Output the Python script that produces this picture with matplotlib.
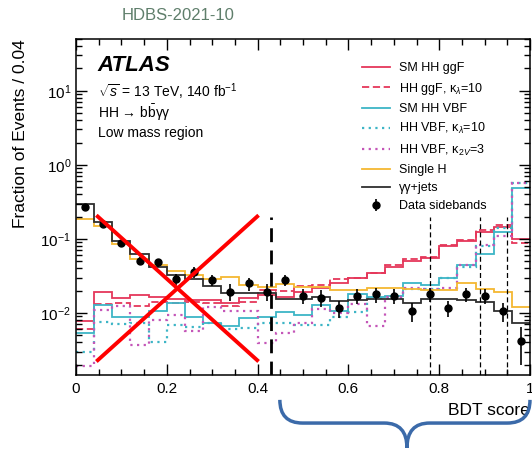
import numpy as np
import matplotlib
matplotlib.use('Agg')
import matplotlib.pyplot as plt
from matplotlib.path import Path
from matplotlib.patches import PathPatch
from matplotlib.lines import Line2D
from matplotlib.ticker import MultipleLocator, LogLocator, NullFormatter

plt.rcParams['font.family'] = ['Liberation Sans', 'DejaVu Sans']
plt.rcParams['mathtext.fontset'] = 'custom'
plt.rcParams['mathtext.rm'] = 'Liberation Sans'
plt.rcParams['mathtext.it'] = 'Liberation Sans:italic'
plt.rcParams['mathtext.bf'] = 'Liberation Sans:bold'

# 25 bins of width 0.04 in BDT score
edges = np.linspace(0.0, 1.0, 26)
centers = 0.5 * (edges[1:] + edges[:-1])

sm_ggf = [0.0078, 0.0192, 0.0158, 0.0177, 0.0163, 0.0153, 0.0151, 0.0151, 0.0135, 0.0158,
          0.0175, 0.0166, 0.0194, 0.0215, 0.0257, 0.0294, 0.0343, 0.0423, 0.050, 0.055,
          0.079, 0.095, 0.125, 0.146, 0.099]
ggf_kl10 = [0.0060, 0.0131, 0.0138, 0.0125, 0.0142, 0.0138, 0.0142, 0.0138, 0.0124, 0.0140,
            0.0204, 0.0200, 0.0230, 0.0237, 0.0290, 0.0294, 0.0350, 0.0440, 0.054, 0.0574,
            0.083, 0.097, 0.132, 0.155, 0.089]
sm_vbf = [0.0054, 0.0129, 0.0089, 0.0089, 0.0107, 0.0135, 0.0087, 0.0072, 0.0067, 0.0085,
          0.0089, 0.0104, 0.0095, 0.0127, 0.0107, 0.0180, 0.0165, 0.0170, 0.0257, 0.024,
          0.030, 0.045, 0.062, 0.123, 0.48]
vbf_kl10 = [0.0030, 0.0076, 0.0071, 0.0074, 0.0040, 0.0068, 0.0064, 0.0072, 0.0060, 0.0062,
            0.0072, 0.0072, 0.0069, 0.0069, 0.0089, 0.0104, 0.0158, 0.0160, 0.021, 0.021,
            0.030, 0.042, 0.080, 0.140, 0.56]
vbf_k2v3 = [0.0019, 0.0110, 0.0125, 0.0037, 0.0080, 0.0094, 0.0057, 0.0120, 0.0105, 0.0105,
            0.0039, 0.0053, 0.0074, 0.0112, 0.0099, 0.0132, 0.0067, 0.0163, 0.0215, 0.021,
            0.022, 0.045, 0.083, 0.110, 0.56]
single_h = [0.185, 0.151, 0.085, 0.054, 0.045, 0.037, 0.032, 0.029, 0.031, 0.024,
            0.0227, 0.0245, 0.0227, 0.0225, 0.0205, 0.0205, 0.0216, 0.0216, 0.021, 0.0205,
            0.0205, 0.025, 0.021, 0.0190, 0.0122]
gg_jets = [0.294, 0.171, 0.094, 0.062, 0.042, 0.033, 0.029, 0.023, 0.0187, 0.0187,
           0.0183, 0.0153, 0.0153, 0.0166, 0.0147, 0.0150, 0.0156, 0.0153, 0.0136, 0.0155,
           0.0155, 0.0150, 0.0142, 0.0105, 0.0072]
data = [0.268, 0.158, 0.087, 0.050, 0.048, 0.029, 0.036, 0.028, 0.0194, 0.025,
        0.0194, 0.028, 0.017, 0.0161, 0.0116, 0.017, 0.0178, 0.017, 0.0106, 0.018,
        0.0117, 0.018, 0.017, 0.0106, 0.0042]
data_err = [0.015, 0.010, 0.007, 0.006, 0.006, 0.005, 0.006, 0.005, 0.005, 0.005,
            0.005, 0.005, 0.004, 0.004, 0.003, 0.004, 0.004, 0.004, 0.003, 0.004,
            0.003, 0.004, 0.004, 0.003, 0.0022]

# category boundaries in BDT score
main_cut = 0.43
cat_cuts = [0.78, 0.89, 0.95]
cut_top = 0.2

# crossed-out low-score region
cross_x = [0.048, 0.399]
cross_y = [0.2, 0.0023]

ylo, yhi = 1.45e-3, 50.0

c_ggf = '#e5375a'
c_vbf = '#3db5c6'
c_k2v = '#c456b8'
c_sh = '#f4b731'
c_bkg = '#2f2f2f'

fig = plt.figure(figsize=(5.32, 4.49), dpi=100)
ax = fig.add_axes([76/532, 74/449, 454/532, 336/449])

lw = 1.3
ax.stairs(sm_ggf, edges, color=c_ggf, lw=lw, baseline=None)
ax.stairs(ggf_kl10, edges, color=c_ggf, lw=lw, ls=(0, (4, 2)), baseline=None)
ax.stairs(sm_vbf, edges, color=c_vbf, lw=lw, baseline=None)
ax.stairs(vbf_kl10, edges, color=c_vbf, lw=1.6, ls=(0, (1, 2)), baseline=None)
ax.stairs(vbf_k2v3, edges, color=c_k2v, lw=1.6, ls=(0, (1, 2)), baseline=None)
ax.stairs(single_h, edges, color=c_sh, lw=lw, baseline=None)
ax.stairs(gg_jets, edges, color=c_bkg, lw=lw, baseline=None)
eb = ax.errorbar(centers, data, yerr=data_err, fmt='o', color='black', ms=5,
                 elinewidth=1.2, capsize=0, zorder=5)

ax.plot([main_cut, main_cut], [ylo, cut_top], color='black', lw=2.0, ls=(0, (5, 3)))
for c in cat_cuts:
    ax.plot([c, c], [ylo, cut_top], color='black', lw=0.9, ls=(0, (4, 2.5)))

ax.plot(cross_x, cross_y, color='red', lw=2.8, zorder=6)
ax.plot(cross_x, cross_y[::-1], color='red', lw=2.8, zorder=6)

ax.set_xlim(0, 1)
ax.set_yscale('log')
ax.set_ylim(ylo, yhi)

ax.xaxis.set_major_locator(MultipleLocator(0.2))
ax.xaxis.set_minor_locator(MultipleLocator(0.05))
ax.xaxis.set_major_formatter(plt.FuncFormatter(lambda v, p: '0' if v == 0 else ('1' if abs(v - 1) < 1e-9 else '%.1f' % v)))
ax.yaxis.set_major_locator(LogLocator(base=10, numticks=10))
ax.yaxis.set_minor_locator(LogLocator(base=10, subs=np.arange(2, 10), numticks=20))
ax.yaxis.set_minor_formatter(NullFormatter())
ax.tick_params(which='both', direction='in', top=True, right=True, labelsize=11, width=1.0)
ax.tick_params(which='major', length=8)
ax.tick_params(which='minor', length=4)
ax.tick_params(axis='x', pad=5)
for s in ax.spines.values():
    s.set_linewidth(1.1)

ax.set_xlabel('BDT score', fontsize=12.5, loc='right')
ax.xaxis.set_label_coords(1.0, -0.082)
ax.set_ylabel('Fraction of Events / 0.04', fontsize=12.5, loc='top')
ax.yaxis.set_label_coords(-0.105, 1.0)

ax.text(0.048, 0.92, 'ATLAS', transform=ax.transAxes, fontsize=16,
        fontweight='bold', fontstyle='italic', va='center')
ax.text(0.048, 0.842, r'$\sqrt{s}$ = 13 TeV, 140 fb$^{-1}$', transform=ax.transAxes,
        fontsize=10, va='center')
ax.text(0.048, 0.78, r'HH → b$\bar{\mathrm{b}}$γγ', transform=ax.transAxes,
        fontsize=10, va='center')
ax.text(0.048, 0.72, 'Low mass region', transform=ax.transAxes, fontsize=10, va='center')

handles = [
    Line2D([], [], color=c_ggf, lw=lw),
    Line2D([], [], color=c_ggf, lw=lw, ls=(0, (4, 2))),
    Line2D([], [], color=c_vbf, lw=lw),
    Line2D([], [], color=c_vbf, lw=1.6, ls=(0, (1, 2))),
    Line2D([], [], color=c_k2v, lw=1.6, ls=(0, (1, 2))),
    Line2D([], [], color=c_sh, lw=lw),
    Line2D([], [], color=c_bkg, lw=lw),
    eb,
]
labels = ['SM HH ggF', r'HH ggF, κ$_{\lambda}$=10', 'SM HH VBF',
          r'HH VBF, κ$_{\lambda}$=10', r'HH VBF, κ$_{2V}$=3', 'Single H',
          'γγ+jets', 'Data sidebands']
ax.legend(handles, labels, loc='upper left', bbox_to_anchor=(0.62, 0.945),
          frameon=False, fontsize=9, handlelength=2.2, handletextpad=0.75,
          labelspacing=0.5, borderaxespad=0)

# brace under the high-score region
bx0, bx1, bxm, r = 0.449, 1.0, 0.729, 0.05
yt, ym, yb = -0.074, -0.143, -0.217
verts = [(bx0, yt), (bx0, ym), (bx0 + r, ym), (bxm - r, ym), (bxm, ym), (bxm, yb),
         (bxm, ym), (bxm + r, ym), (bx1 - r, ym), (bx1, ym), (bx1, yt)]
codes = [Path.MOVETO, Path.CURVE3, Path.CURVE3, Path.LINETO, Path.CURVE3, Path.CURVE3,
         Path.CURVE3, Path.CURVE3, Path.LINETO, Path.CURVE3, Path.CURVE3]
ax.add_patch(PathPatch(Path(verts, codes), fill=False, edgecolor='#3b6aa9', lw=2.5,
                       transform=ax.get_xaxis_transform(), clip_on=False, zorder=10))

fig.text(178/532, 1 - 16/449, 'HDBS-2021-10', color='#5f7e6b', fontsize=12,
         ha='center', va='center')

fig.savefig('out.png', dpi=100)
